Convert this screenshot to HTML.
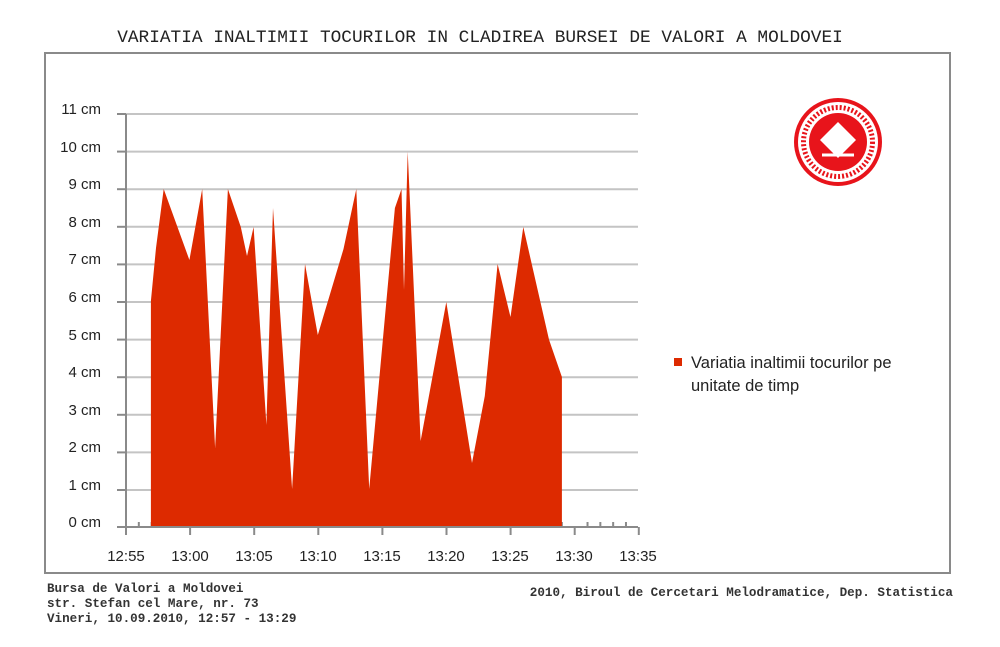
<!DOCTYPE html>
<html><head><meta charset="utf-8"><style>
body{margin:0;background:#fff;width:1000px;height:647px;overflow:hidden}
svg{display:block}
</style></head><body>
<svg width="1000" height="647" viewBox="0 0 1000 647" xmlns="http://www.w3.org/2000/svg">
<text x="480" y="42" text-anchor="middle" font-family="Liberation Mono, monospace" font-size="17.8" fill="#222">VARIATIA INALTIMII TOCURILOR IN CLADIREA BURSEI DE VALORI A MOLDOVEI</text>
<rect x="45" y="53" width="905" height="520" fill="none" stroke="#8a8a8a" stroke-width="2"/>
<g stroke="#c4c4c4" stroke-width="2">
<line x1="126" x2="638" y1="114" y2="114"/><line x1="126" x2="638" y1="151.6" y2="151.6"/>
<line x1="126" x2="638" y1="189.2" y2="189.2"/><line x1="126" x2="638" y1="226.8" y2="226.8"/>
<line x1="126" x2="638" y1="264.4" y2="264.4"/><line x1="126" x2="638" y1="302" y2="302"/>
<line x1="126" x2="638" y1="339.6" y2="339.6"/><line x1="126" x2="638" y1="377.2" y2="377.2"/>
<line x1="126" x2="638" y1="414.8" y2="414.8"/><line x1="126" x2="638" y1="452.4" y2="452.4"/>
<line x1="126" x2="638" y1="490" y2="490"/>
</g>
<g stroke="#8a8a8a" stroke-width="2" id="ticks"></g>
<polygon fill="#dd2a00" points="150.9,527 150.9,301 156,248 163.7,189 189.4,260 202.2,189 215.1,448 227.9,189 240.8,227 247,256 253.6,227 266.4,425 273,208 292.1,489 305,264 317.8,335 343.5,249 356.3,189 369.2,489 394.9,208 401.5,189 404,290 407.7,151.6 420.6,441 446.3,302 472,463 484.8,396 497.6,264 510.5,317 523.3,227 549,339.6 561.9,377 561.9,527"/>
<line x1="126" y1="114" x2="126" y2="535" stroke="#8a8a8a" stroke-width="2"/>
<line x1="126" y1="527" x2="638" y2="527" stroke="#8a8a8a" stroke-width="2"/>
<g font-family="Liberation Sans, sans-serif" font-size="15" fill="#222" text-anchor="end">
<text x="101" y="114">11 cm</text><text x="101" y="152">10 cm</text><text x="101" y="189">9 cm</text>
<text x="101" y="227">8 cm</text><text x="101" y="264">7 cm</text><text x="101" y="302">6 cm</text>
<text x="101" y="340">5 cm</text><text x="101" y="377">4 cm</text><text x="101" y="415">3 cm</text>
<text x="101" y="452">2 cm</text><text x="101" y="490">1 cm</text><text x="101" y="527">0 cm</text>
</g>
<g font-family="Liberation Sans, sans-serif" font-size="15" fill="#222" text-anchor="middle">
<text x="126" y="561">12:55</text><text x="190" y="561">13:00</text><text x="254" y="561">13:05</text>
<text x="318" y="561">13:10</text><text x="382" y="561">13:15</text><text x="446" y="561">13:20</text>
<text x="510" y="561">13:25</text><text x="574" y="561">13:30</text><text x="638" y="561">13:35</text>
</g>
<rect x="674" y="358" width="8" height="8" fill="#dd2a00"/>
<text x="691" y="368" font-family="Liberation Sans, sans-serif" font-size="16.5" fill="#222">Variatia inaltimii tocurilor pe</text>
<text x="691" y="391" font-family="Liberation Sans, sans-serif" font-size="16.5" fill="#222">unitate de timp</text>
<g font-family="Liberation Mono, monospace" font-size="12.6" font-weight="bold" fill="#333">
<text x="47" y="592">Bursa de Valori a Moldovei</text>
<text x="47" y="607">str. Stefan cel Mare, nr. 73</text>
<text x="47" y="622">Vineri, 10.09.2010, 12:57 - 13:29</text>
<text x="953" y="596" text-anchor="end">2010, Biroul de Cercetari Melodramatice, Dep. Statistica</text>
</g>
<g>
<circle cx="838" cy="142" r="44" fill="#e8141b"/>
<circle cx="838" cy="142" r="40" fill="#fff"/>
<circle cx="838" cy="142" r="29" fill="#e8141b"/>
<polygon points="838,122 856,140 838,158 820,140" fill="#fff"/>
<path d="M822 155 L854 155" stroke="#fff" stroke-width="3"/>
<circle cx="838" cy="142" r="34.5" fill="none" stroke="#e8141b" stroke-width="5" stroke-dasharray="2 2"/>
</g>
</svg>
<script>
var g=document.getElementById('ticks'),s='';
for(var i=0;i<=40;i++){var x=126+i*12.82;var maj=i%5==0;
s+='<line x1="'+x+'" x2="'+x+'" y1="'+(maj?527:522)+'" y2="'+(maj?535:527)+'"/>';}
var ys=[114,151.6,189.2,226.8,264.4,302,339.6,377.2,414.8,452.4,490,527];
ys.forEach(function(y){s+='<line x1="117" x2="126" y1="'+y+'" y2="'+y+'"/>';});
g.innerHTML=s;
</script>
</body></html>
